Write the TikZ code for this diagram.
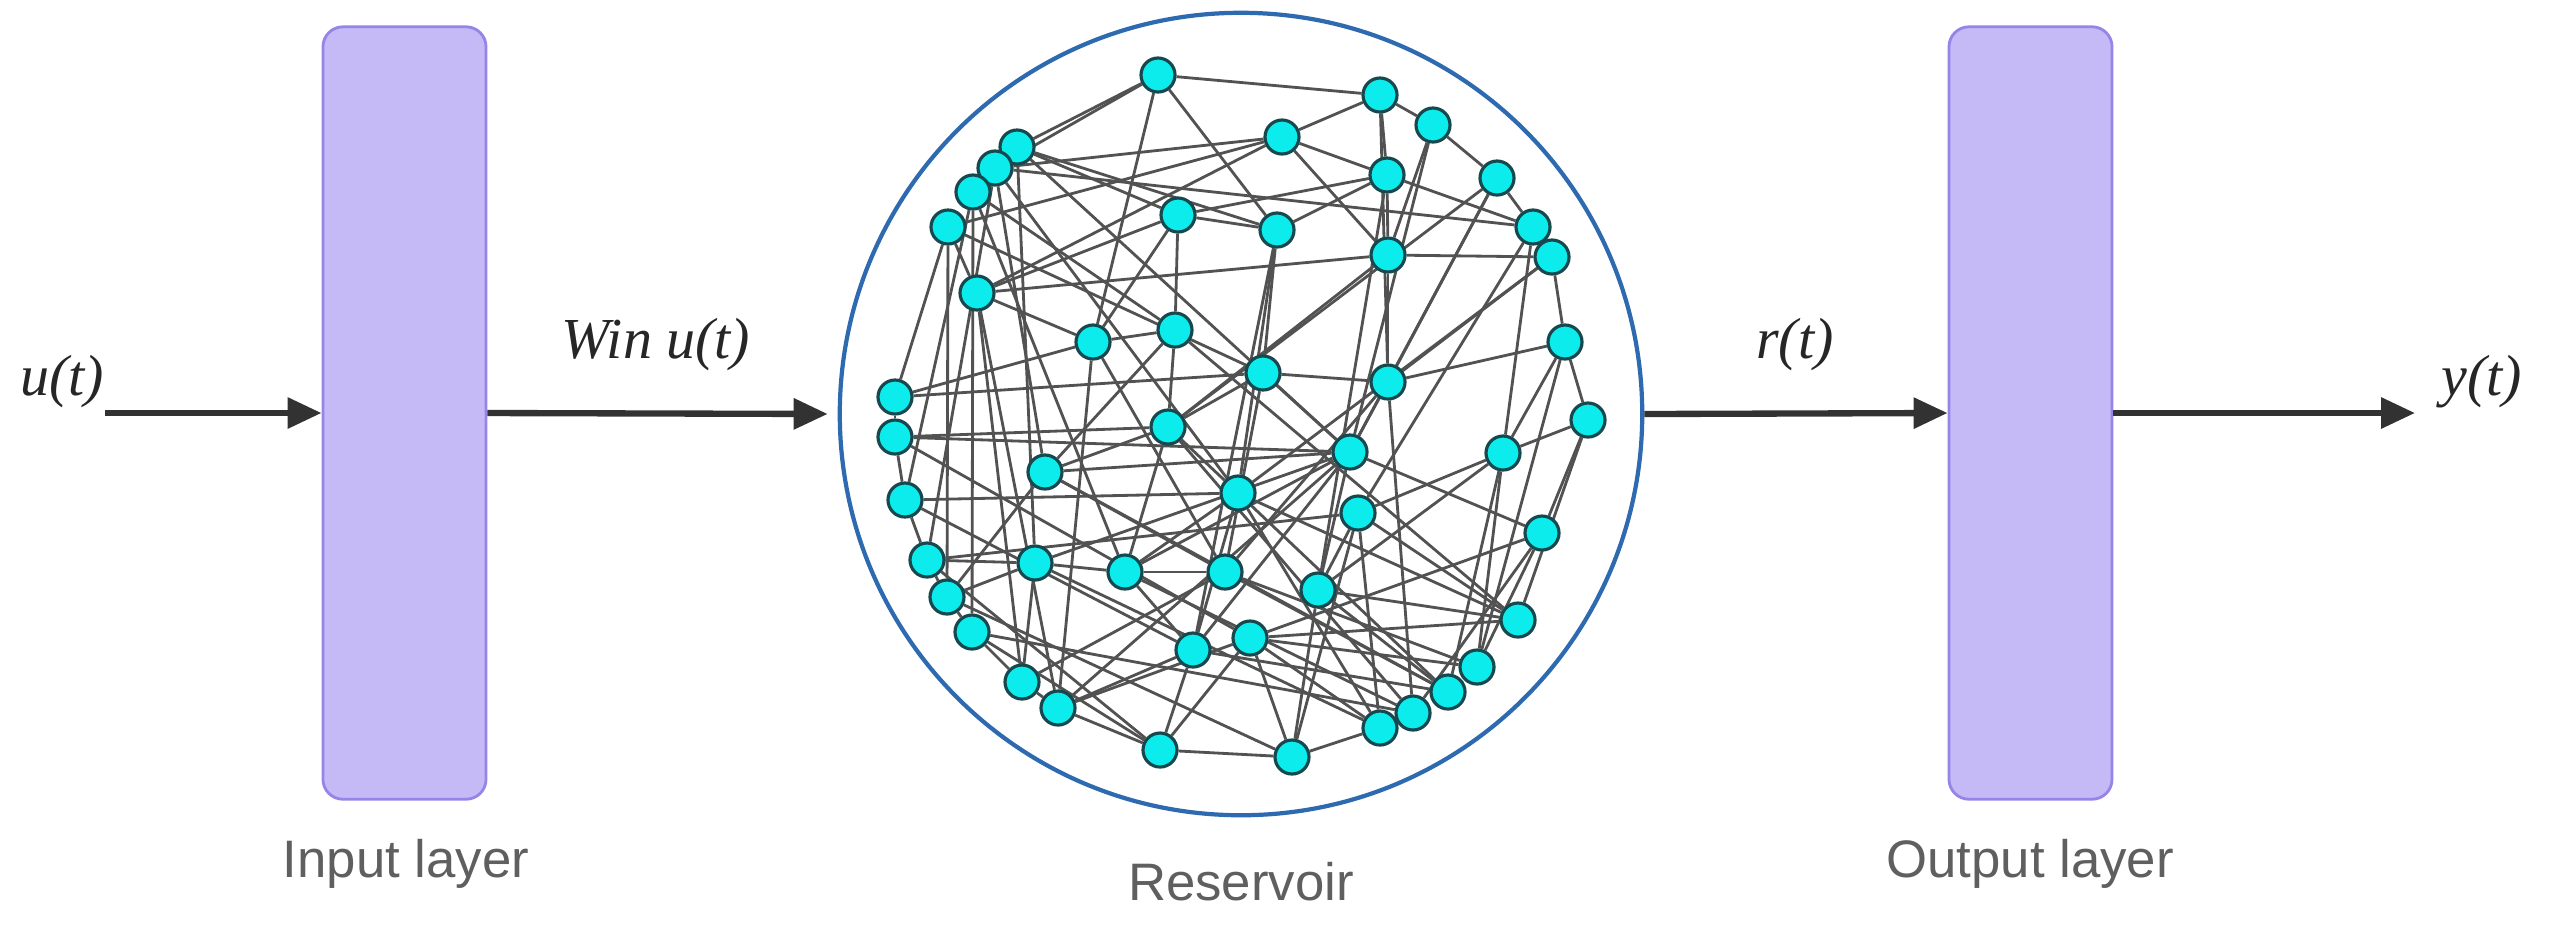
\documentclass[tikz,border=0pt]{standalone}
\usepackage{fontspec}
\setmainfont{Liberation Serif}
\setsansfont{Liberation Sans}
\usetikzlibrary{arrows.meta,backgrounds}
\definecolor{layerviolet}{RGB}{197,185,246}
\definecolor{layeredge}{RGB}{150,132,232}
\definecolor{reservoirblue}{RGB}{46,106,176}
\definecolor{neuroncyan}{RGB}{12,236,236}
\definecolor{neuronedge}{RGB}{22,72,78}
\definecolor{arrowgray}{RGB}{50,50,50}
\definecolor{labelgray}{RGB}{95,95,95}

\begin{document}
\begin{tikzpicture}[
    x=0.01cm, y=-0.01cm,
    layer/.style={draw=layeredge, line width=0.8pt, fill=layerviolet, rounded corners=0.2cm, minimum width=1.63cm, minimum height=7.72cm, inner sep=0pt},
    reservoir/.style={circle, draw=reservoirblue, line width=1.2pt, minimum size=8.02cm, inner sep=0pt},
    neuron/.style={circle, draw=neuronedge, line width=0.9pt, fill=neuroncyan, minimum size=0.34cm, inner sep=0pt},
    link/.style={draw=black!68, line width=0.8pt},
    flow/.style={draw=arrowgray, line width=1.8pt, -{Triangle[length=0.34cm,width=0.3cm]}},
    signal/.style={font=\fontsize{16.5}{18}\selectfont\itshape, text=black!85, inner sep=0pt, anchor=base},
    caption/.style={font=\fontsize{15}{17}\selectfont\sffamily, text=labelgray, inner sep=0pt, anchor=base}
]
\useasboundingbox (0,0) rectangle (2549,926);

% Input side
\coordinate (src) at (105,413);
\node[signal] (ulabel) at (62,395) {u(t)};
\node[layer] (inlayer) at (404.5,413) {};
\node[caption] (incap) at (406,877) {Input layer};

% Reservoir
\node[reservoir] (res) at (1241,414) {};
\node[caption] (rescap) at (1241,900) {Reservoir};

% Output side
\node[layer] (outlayer) at (2030.5,413) {};
\node[caption] (outcap) at (2030,877) {Output layer};
\coordinate (sink) at (2415,413);
\node[signal] (ylabel) at (2482,395) {y(t)};

% Signal labels
\node[signal] (winlabel) at (656,358) {Win u(t)};
\node[signal] (rlabel) at (1795,358) {r(t)};

% Flow
\draw[flow] (src) -- (inlayer.west);
\draw[flow, shorten >=0.1cm] (inlayer.east) -- (res.west);
\draw[flow] (res.east) -- (outlayer.west);
\draw[flow] (outlayer.east) -- (sink);

% Neurons
\foreach \n/\px/\py in {
    1/1158/75, 2/1380/95, 3/1433/125, 4/1282/137, 5/1017/147,
    6/995/168, 7/973/192, 8/948/227, 9/1387/175, 10/1497/178,
    11/1178/215, 12/1277/230, 13/1533/227, 14/1552/257, 15/1388/255,
    16/977/293, 17/1093/342, 18/1175/330, 19/1565/342, 20/1263/373,
    21/1388/382, 22/895/397, 23/895/437, 24/1588/420, 25/1168/427,
    26/1503/453, 27/1350/452, 28/1045/472, 29/905/500, 30/1238/493,
    31/1358/513, 32/1542/533, 33/927/560, 34/1035/563, 35/1125/572,
    36/1225/572, 37/947/597, 38/1318/590, 39/972/632, 40/1518/620,
    41/1250/638, 42/1193/650, 43/1477/667, 44/1448/692, 45/1022/682,
    46/1413/713, 47/1058/708, 48/1380/728, 49/1160/750, 50/1292/757}
    \node[neuron] (r\n) at (\px,\py) {};

% Recurrent links
\begin{scope}[on background layer]
\foreach \a/\b in {
    1/2, 1/5, 1/6, 1/12, 1/17,
    2/3, 2/4, 2/9, 2/21,
    3/10, 3/15, 3/27,
    4/6, 4/8, 4/9, 4/15, 4/16,
    5/11, 5/27, 5/34, 5/12,
    6/30, 6/33, 6/28, 6/13,
    7/35, 7/29, 7/18, 7/39,
    8/16, 8/22, 8/37, 8/20,
    9/12, 9/13, 9/15, 9/38, 9/11,
    10/13, 10/27, 10/25, 10/21,
    11/12, 11/17, 11/18, 11/16,
    12/20, 12/42, 12/30,
    13/14, 13/26, 13/31,
    14/15, 14/19, 14/21, 14/30,
    15/21, 15/25, 15/16,
    16/17, 16/47, 16/45,
    17/18, 17/22, 17/47, 17/36,
    18/25, 18/28, 18/40,
    19/21, 19/24, 19/26, 19/43,
    20/21, 20/22, 20/27, 20/36, 20/25,
    21/27, 21/36, 21/46,
    22/23,
    23/25, 23/29, 23/27, 23/41,
    24/26, 24/32, 24/40,
    25/28, 25/30, 25/35, 25/46,
    26/31, 26/43, 26/44, 26/38,
    27/28, 27/32, 27/38, 27/35, 27/42, 27/47, 27/34,
    28/44, 28/37, 28/36,
    29/30, 29/33, 29/42,
    30/35, 30/42, 30/44, 30/48, 30/40,
    31/38, 31/40, 31/48, 31/50, 31/33,
    32/46, 32/43, 32/41,
    33/34, 33/37, 33/49,
    34/35, 34/37, 34/45, 34/48,
    35/36, 35/42, 35/46,
    36/44, 36/43, 36/45,
    37/39, 37/50,
    38/40, 38/44, 38/50,
    39/45, 39/46, 39/49,
    40/41,
    41/43, 41/48, 41/49, 41/50, 41/47,
    42/47, 42/49, 42/44,
    45/47, 47/49, 48/50, 49/50}
    \draw[link] (r\a) -- (r\b);
\end{scope}

\end{tikzpicture}
\end{document}
